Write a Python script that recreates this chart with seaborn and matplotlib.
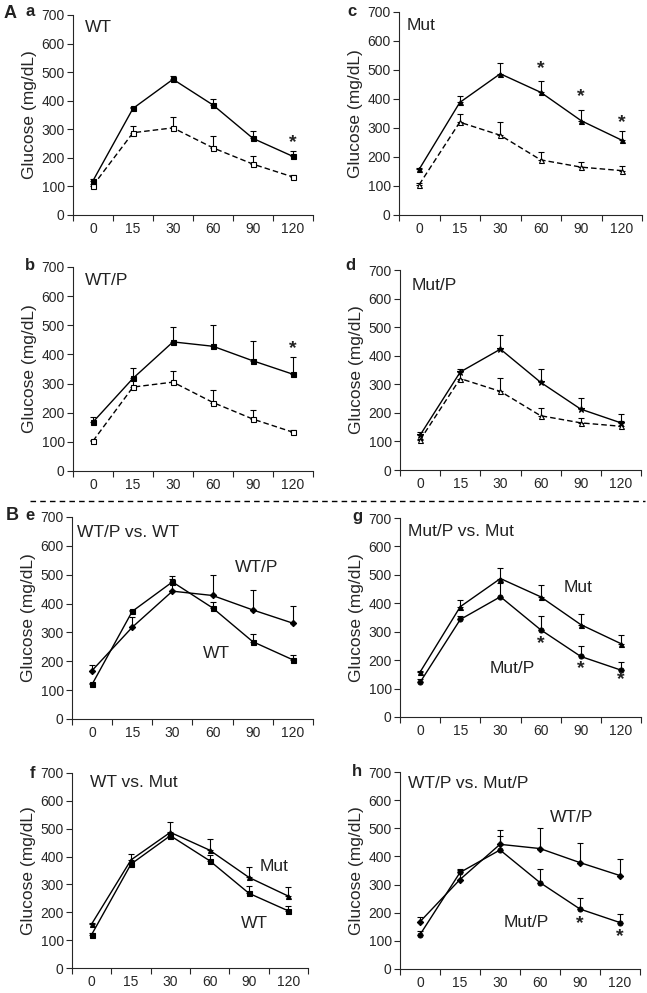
import numpy as np
import matplotlib
matplotlib.use("Agg")
import matplotlib.pyplot as plt
import seaborn as sns

# time points (min) and mean glucose (mg/dL) with upper SEM bars
times = ["0", "15", "30", "60", "90", "120"]

wt = [120, 373, 475, 385, 268, 205]
wt_err = [5, 5, 10, 20, 25, 18]
wt_base = [103, 288, 305, 235, 178, 133]
wt_base_err = [5, 23, 38, 42, 30, 8]

wtp = [168, 318, 443, 428, 378, 332]
wtp_err = [18, 35, 52, 72, 68, 58]

mut = [158, 388, 487, 423, 325, 258]
mut_err = [5, 23, 37, 40, 37, 32]
mut_base = [105, 320, 275, 190, 165, 153]
mut_base_err = [5, 27, 47, 28, 18, 17]

mutp = [122, 343, 423, 307, 213, 165]
mutp_err = [12, 12, 48, 48, 38, 30]

W, H = 647, 993

sns.set_style("ticks")
plt.rcParams["font.family"] = ["Liberation Sans", "DejaVu Sans"]
plt.rcParams["text.color"] = "#222222"

fig = plt.figure(figsize=(W / 100, H / 100), dpi=100)


def make_ax(left, right, top, bottom):
    return fig.add_axes([left / W, 1 - bottom / H, (right - left) / W, (bottom - top) / H])


def series(ax, vals, errs, marker, dashed=False, filled=True, ms=3.6):
    x = np.arange(len(times))
    ax.errorbar(x, vals, yerr=[np.zeros(len(errs)), errs], fmt="none", ecolor="black",
                elinewidth=0.8, capsize=2.2, capthick=0.8, zorder=2)
    sns.lineplot(x=x, y=vals, ax=ax, color="black", lw=1.0,
                 linestyle="--" if dashed else "-", dashes=False,
                 marker=marker, markersize=ms,
                 markerfacecolor="black" if filled else "white",
                 markeredgecolor="black", markeredgewidth=0.8, zorder=3)
    if dashed:
        ax.lines[-1].set_linestyle((0, (4, 2.2)))


def style_ax(ax):
    ax.set_xlim(-0.5, len(times) - 0.5)
    ax.set_ylim(0, 700)
    ax.set_yticks(range(0, 701, 100))
    ax.set_xticks(np.arange(-0.5, len(times), 1.0))
    ax.set_xticklabels([])
    ax.set_xticks(np.arange(len(times)), minor=True)
    ax.set_xticklabels(times, minor=True)
    ax.tick_params(axis="x", which="major", length=4, width=0.8)
    ax.tick_params(axis="x", which="minor", length=0, pad=5, labelsize=10)
    ax.tick_params(axis="y", length=4, width=0.8, labelsize=10, pad=2)
    ax.set_ylabel("Glucose (mg/dL)", fontsize=12.5, labelpad=3)
    ax.set_xlabel("")
    sns.despine(ax=ax)
    for s in ("left", "bottom"):
        ax.spines[s].set_linewidth(0.8)


def star(ax, x, y):
    ax.text(x, y, "*", ha="center", va="center", fontsize=14, fontweight="bold")


def letter(x, y, s, size=12):
    fig.text(x / W, 1 - y / H, s, ha="center", va="center", fontsize=size, fontweight="bold")


# a: WT
ax = make_ax(73, 313, 15, 215)
series(ax, wt_base, wt_base_err, "s", dashed=True, filled=False)
series(ax, wt, wt_err, "s")
style_ax(ax)
ax.text(0.05, 0.935, "WT", transform=ax.transAxes, fontsize=12.5, va="center")
star(ax, 5, 252)

# c: Mut
ax = make_ax(399, 642, 12, 215)
series(ax, mut_base, mut_base_err, "^", dashed=True, filled=False)
series(ax, mut, mut_err, "^")
style_ax(ax)
ax.text(0.033, 0.935, "Mut", transform=ax.transAxes, fontsize=12.5, va="center")
star(ax, 3, 505)
star(ax, 4, 410)
star(ax, 5, 318)

# b: WT/P
ax = make_ax(73, 313, 267, 471)
series(ax, wt_base, wt_base_err, "s", dashed=True, filled=False)
series(ax, wtp, wtp_err, "s")
style_ax(ax)
ax.text(0.05, 0.936, "WT/P", transform=ax.transAxes, fontsize=12.5, va="center")
star(ax, 5, 420)

# d: Mut/P
ax = make_ax(400, 641, 270, 470)
series(ax, mut_base, mut_base_err, "^", dashed=True, filled=False)
series(ax, mutp, mutp_err, "*", ms=5)
style_ax(ax)
ax.text(0.05, 0.925, "Mut/P", transform=ax.transAxes, fontsize=12.5, va="center")

# e: WT/P vs. WT
ax = make_ax(72, 313, 517, 719)
series(ax, wtp, wtp_err, "D", ms=3.2)
series(ax, wt, wt_err, "s")
style_ax(ax)
ax.text(0.02, 0.925, "WT/P vs. WT", transform=ax.transAxes, fontsize=12.5, va="center")
ax.text(4.1, 525, "WT/P", ha="center", va="center", fontsize=12.5)
ax.text(3.1, 228, "WT", ha="center", va="center", fontsize=12.5)

# g: Mut/P vs. Mut
ax = make_ax(400, 641, 518, 717)
series(ax, mut, mut_err, "^")
series(ax, mutp, mutp_err, "o", ms=3.6)
style_ax(ax)
ax.text(0.035, 0.93, "Mut/P vs. Mut", transform=ax.transAxes, fontsize=12.5, va="center")
ax.text(3.93, 456, "Mut", ha="center", va="center", fontsize=12.5)
ax.text(2.29, 172, "Mut/P", ha="center", va="center", fontsize=12.5)
star(ax, 3, 258)
star(ax, 4, 170)
star(ax, 5, 132)

# f: WT vs. Mut
ax = make_ax(72, 308, 773, 968)
series(ax, mut, mut_err, "^")
series(ax, wt, wt_err, "s")
style_ax(ax)
ax.text(0.075, 0.95, "WT vs. Mut", transform=ax.transAxes, fontsize=12.5, va="center")
ax.text(4.64, 366, "Mut", ha="center", va="center", fontsize=12.5)
ax.text(4.15, 161, "WT", ha="center", va="center", fontsize=12.5)

# h: WT/P vs. Mut/P
ax = make_ax(400, 640, 772, 969)
series(ax, wtp, wtp_err, "D", ms=3.2)
series(ax, mutp, mutp_err, "o", ms=3.6)
style_ax(ax)
ax.text(0.035, 0.94, "WT/P vs. Mut/P", transform=ax.transAxes, fontsize=12.5, va="center")
ax.text(3.78, 537, "WT/P", ha="center", va="center", fontsize=12.5)
ax.text(2.65, 164, "Mut/P", ha="center", va="center", fontsize=12.5)
star(ax, 4, 160)
star(ax, 5, 116)

# section separator
fig.add_artist(plt.Line2D([30 / W, 645 / W], [1 - 501 / H, 1 - 501 / H], color="black",
                          lw=1.0, linestyle=(0, (4, 3))))

letter(10, 14, "A", 13)
letter(30, 12, "a")
letter(352, 12, "c")
letter(30, 265, "b")
letter(350, 265, "d")
letter(12, 515, "B", 13)
letter(30, 515, "e")
letter(357, 517, "g")
letter(32, 773, "f")
letter(357, 772, "h")

fig.savefig("out.png", dpi=100)
